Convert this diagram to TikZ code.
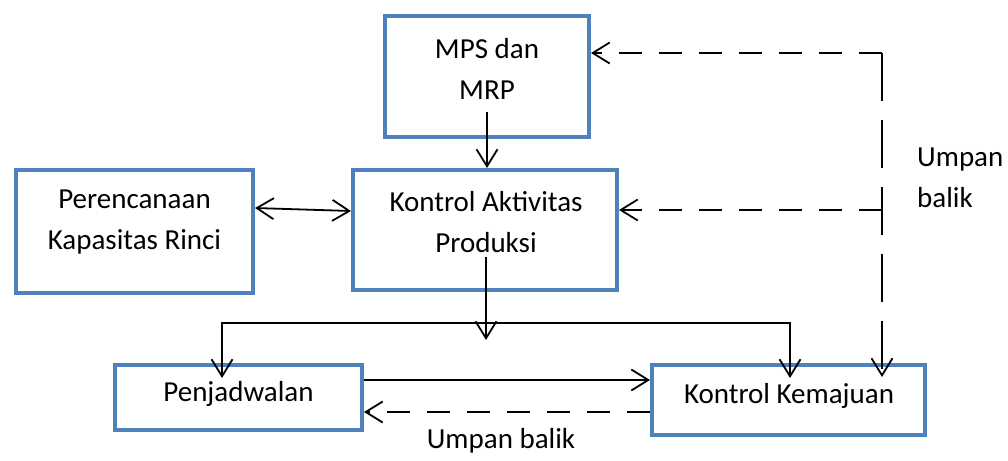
\documentclass[tikz,border=0pt]{standalone}
\usepackage{fontspec}
\setmainfont{Carlito}
\usetikzlibrary{arrows.meta}
\definecolor{boxblue}{RGB}{79,129,189}
\begin{document}
\begin{tikzpicture}[x=1pt,y=-1pt,
  box/.style={draw=boxblue,line width=4pt,rectangle,inner sep=0pt,fill=white},
  lbl/.style={font=\fontsize{29}{41}\selectfont,align=center,inner sep=0pt},
  conn/.style={line width=1.8pt,draw=black},
  arr/.style={conn,-{Straight Barb[length=17pt,width=21pt,line width=1.8pt]}},
  biarr/.style={conn,{Straight Barb[length=17pt,width=21pt,line width=1.8pt]}-{Straight Barb[length=17pt,width=21pt,line width=1.8pt]}},
  dashh/.style={dash pattern=on 23pt off 17pt},
  dashv/.style={dash pattern=on 48pt off 19pt}]
\useasboundingbox (0,0) rectangle (1008,460);

% boxes
\node[box,minimum width=204pt,minimum height=121pt] (mps) at (487,76.5) {};
\node[box,minimum width=237pt,minimum height=123pt] (per) at (134.5,231.5) {};
\node[box,minimum width=264pt,minimum height=120pt] (kap) at (485,230) {};
\node[box,minimum width=247pt,minimum height=65pt] (pen) at (238.5,397.5) {};
\node[box,minimum width=273pt,minimum height=70pt] (kk) at (788.5,400) {};

% box texts
\node[lbl] (mpsT) at (487,69) {MPS dan\\MRP};
\node[lbl] (perT) at (134.5,222) {Perencanaan\\Kapasitas Rinci};
\node[lbl] (kapT) at (486,222) {Kontrol Aktivitas\\Produksi};
\node[lbl] (penT) at (238.5,394) {Penjadwalan};
\node[lbl] (kkT) at (789,396) {Kontrol Kemajuan};

% free labels
\node[lbl,align=left,anchor=west] (fbR) at (917,178) {Umpan\\balik};
\node[lbl] (fbB) at (501,441) {Umpan balik};

% control points of the connectors
\coordinate (mpsOut) at (487,112);
\coordinate (kapOut) at (486,257);
\coordinate (bl) at (222,323);
\coordinate (br) at (790,323);
\coordinate (fbTop) at (882,53);
\coordinate (fbMid) at (882,210);

% solid flows
\draw[arr] (mpsOut) -- (mpsOut |- kap.north);
\draw[biarr] (per.east |- 0,208) -- (kap.west |- 0,211);
\draw[arr] (kapOut) -- (486,340);
\draw[biarr,line join=miter] ([yshift=-15pt]bl |- pen.north) -- (bl) -- (br) -- ([yshift=-15pt]br |- kk.north);
\draw[arr] (pen.east |- 0,380) -- (kk.west |- 0,380);

% feedback (dashed)
\draw[arr,dashh] (kk.west |- 0,412) -- (pen.east |- 0,412);
\draw[arr,dashh] (fbTop) -- (mps.east |- fbTop);
\draw[arr,dashh] (fbMid) -- (kap.east |- fbMid);
\draw[arr,dashv] (fbTop) -- ([yshift=-14pt]fbTop |- kk.north);
\end{tikzpicture}
\end{document}
